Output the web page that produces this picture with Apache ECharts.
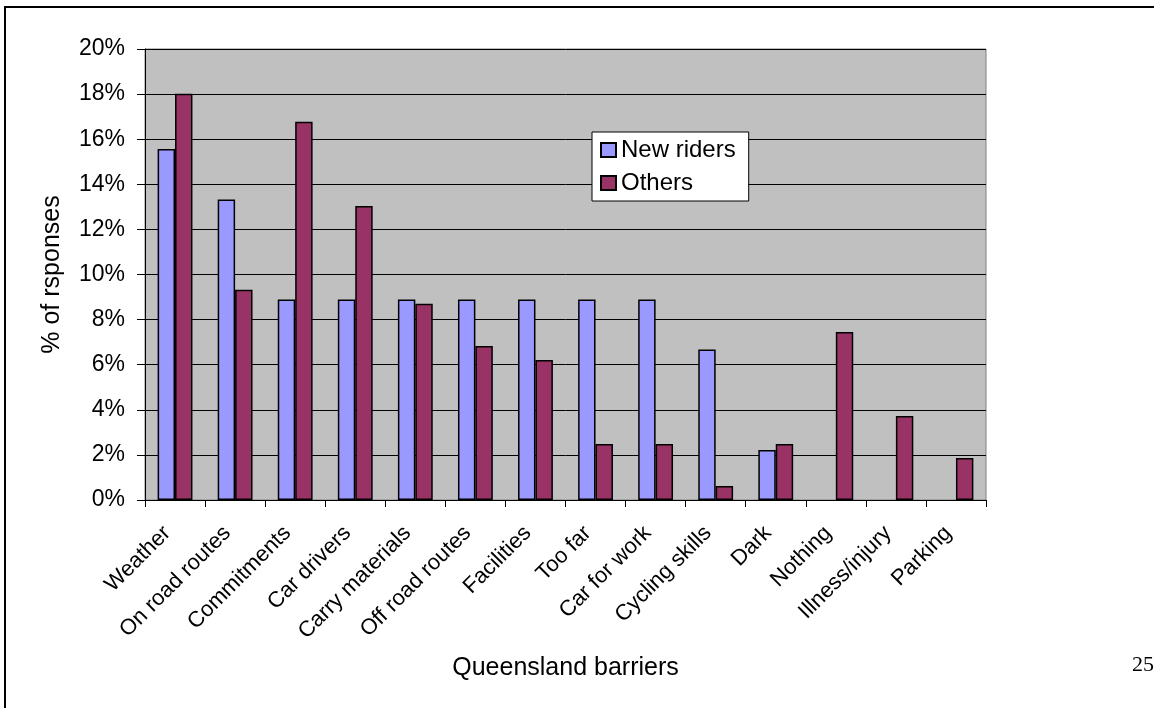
<!DOCTYPE html>
<html>
<head>
<meta charset="utf-8">
<title>Queensland barriers</title>
<script src="https://cdn.jsdelivr.net/npm/echarts@6/dist/echarts.min.js"></script>
<style>
  html, body { margin: 0; padding: 0; background: #ffffff; }
  #chart { width: 1154px; height: 708px; }
</style>
</head>
<body>
<div id="chart"></div>
<script>
// Barrier categories along the x axis
const categories = [
  'Weather', 'On road routes', 'Commitments', 'Car drivers', 'Carry materials',
  'Off road routes', 'Facilities', 'Too far', 'Car for work', 'Cycling skills',
  'Dark', 'Nothing', 'Illness/injury', 'Parking'
];

// Share of responses (%) per barrier
const newRiders = [15.56, 13.33, 8.89, 8.89, 8.89, 8.89, 8.89, 8.89, 8.89, 6.67, 2.22, 0, 0, 0];
const others    = [18.01, 9.32, 16.77, 13.04, 8.70, 6.83, 6.21, 2.48, 2.48, 0.62, 2.48, 7.45, 3.73, 1.86];

// Value-axis range and step (%)
const yMin = 0;
const yMax = 20;
const yStep = 2;

const seriesNames = ['New riders', 'Others'];
const xTitle = 'Queensland barriers';
const yTitle = '% of rsponses';
const pageNumber = '25';

const FONT = "'Liberation Sans', Arial, sans-serif";

// Zero-height bars get no outline so they leave no trace on the axis
const toBarData = arr => arr.map(v => (v === 0 ? { value: 0, itemStyle: { borderWidth: 0, opacity: 0 } } : v));

const chart = echarts.init(document.getElementById('chart'), null, { renderer: 'canvas' });

chart.setOption({
  animation: false,
  backgroundColor: '#ffffff',
  textStyle: { fontFamily: FONT, color: '#000000' },
  grid: {
    left: 145, top: 49, right: 168, bottom: 208,
    show: true,
    backgroundColor: '#c0c0c0',
    borderColor: '#808080',
    borderWidth: 1
  },
  legend: {
    orient: 'vertical',
    left: 592,
    top: 132,
    padding: [6, 13, 6, 8],
    itemWidth: 15,
    itemHeight: 14,
    itemGap: 9,
    backgroundColor: '#ffffff',
    borderColor: '#000000',
    borderWidth: 1,
    icon: 'rect',
    textStyle: { fontFamily: FONT, fontSize: 24, color: '#000000' },
    data: seriesNames
  },
  xAxis: {
    type: 'category',
    data: categories,
    boundaryGap: true,
    name: xTitle,
    nameLocation: 'middle',
    nameGap: 156,
    nameTextStyle: { fontFamily: FONT, fontSize: 25, color: '#000000' },
    axisLine: { show: true, lineStyle: { color: '#000000', width: 1 } },
    axisTick: { show: true, length: 7, alignWithLabel: false, lineStyle: { color: '#000000' } },
    axisLabel: {
      rotate: 45,
      interval: 0,
      margin: 22,
      padding: [0, 11, 0, 0],
      fontFamily: FONT,
      fontSize: 22,
      color: '#000000'
    },
    splitLine: { show: false }
  },
  yAxis: {
    type: 'value',
    min: yMin,
    max: yMax,
    interval: yStep,
    name: yTitle,
    nameLocation: 'middle',
    nameGap: 80,
    nameRotate: 90,
    nameTextStyle: { fontFamily: FONT, fontSize: 25, color: '#000000' },
    axisLine: { show: true, lineStyle: { color: '#000000', width: 1 } },
    axisTick: { show: true, length: 8, lineStyle: { color: '#000000' } },
    axisLabel: {
      margin: 20,
      fontFamily: FONT,
      fontSize: 23,
      color: '#000000',
      formatter: v => v + '%'
    },
    splitLine: { show: true, lineStyle: { color: '#000000', width: 1 } }
  },
  series: [
    {
      name: seriesNames[0],
      type: 'bar',
      data: toBarData(newRiders),
      barGap: '0%',
      barCategoryGap: '42%',
      itemStyle: { color: '#9999ff', borderColor: '#000000', borderWidth: 1.5 }
    },
    {
      name: seriesNames[1],
      type: 'bar',
      data: toBarData(others),
      barGap: '0%',
      barCategoryGap: '42%',
      itemStyle: { color: '#993366', borderColor: '#000000', borderWidth: 1.5 }
    }
  ],
  graphic: [
    {
      type: 'rect',
      silent: true,
      z: -1,
      shape: { x: 5, y: 7, width: 1300, height: 900 },
      style: { fill: null, stroke: '#000000', lineWidth: 2 }
    },
    {
      type: 'text',
      silent: true,
      left: 1132,
      top: 654,
      style: { text: pageNumber, font: "22px 'Liberation Serif', 'Times New Roman', serif", fill: '#000000' }
    }
  ]
});
</script>
</body>
</html>
